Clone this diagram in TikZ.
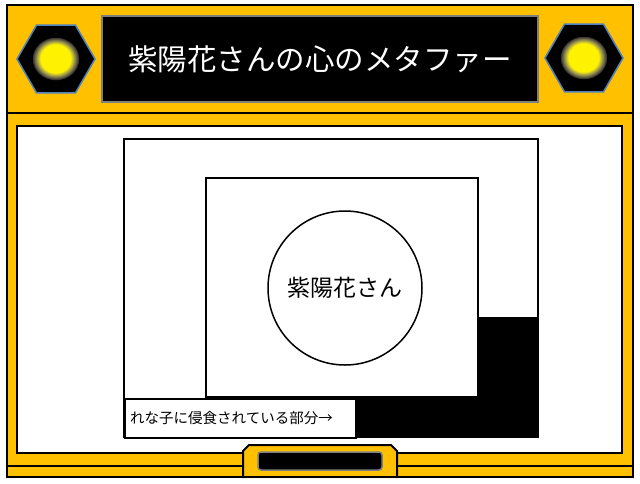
\documentclass[tikz,border=0pt]{standalone}
\usepackage{fontspec}
\usetikzlibrary{shapes.geometric}
\newfontfamily\jp{Noto Sans CJK JP}
\definecolor{frameor}{HTML}{FFC000}
\definecolor{hexblue}{HTML}{4F81BD}
\definecolor{tgray}{HTML}{7F7F7F}
\begin{document}
\begin{tikzpicture}[x=1pt,y=-1pt,
  frameline/.style={draw=black, line width=2pt},
  hexbox/.style={regular polygon, regular polygon sides=6, minimum size=78pt, inner sep=0pt, fill=black, draw=hexblue, line width=1.5pt},
  titlebox/.style={fill=black, draw=tgray, line width=2pt, minimum width=436pt, minimum height=86pt, inner sep=0pt, text=white, font=\jp\fontsize{29.5}{29.5}\selectfont},
  diag/.style={draw=black, line width=1.5pt, fill=white}
]
\useasboundingbox (0,0) rectangle (640,483);
\fill[white] (0,0) rectangle (640,483);
% frame
\fill[frameor] (7,5) rectangle (633,477);
\draw[frameline] (7,113) -- (633,113);
\draw[frameline] (7,466) -- (633,466);
\draw[frameline, fill=white] (17,126) rectangle (622,453);
% header
\node[titlebox] (title) at (320,59) {紫陽花さんの心のメタファー};
\node[hexbox] (hexL) at (56,59) {};
\node[hexbox] (hexR) at (584,58) {};
\foreach \h in {hexL,hexR}{
  \foreach \i in {0,...,10}{
    \pgfmathsetmacro{\rx}{24-0.85*\i}
    \pgfmathsetmacro{\ry}{22-0.75*\i}
    \pgfmathsetmacro{\pc}{10*\i}
    \fill[yellow!\pc!black] (\h.center) ellipse [x radius=\rx pt, y radius=\ry pt];
  }
}
% bottom tab
\draw[frameline, fill=frameor] (243,478) -- (243,451) -- (249,445) -- (391,445) -- (397,451) -- (397,478);
\draw[fill=black, draw=tgray, line width=1.5pt, rounded corners=3pt] (258,452) rectangle (382,470);
\draw[frameline] (7,5) rectangle (633,477);
% diagram
\draw[diag] (124,139) rectangle (538,437);
\fill[black] (477,317) -- (538,317) -- (538,437) -- (355,437) -- (355,396) -- (477,396) -- cycle;
\draw[draw=black, line width=1.5pt] (124,139) rectangle (538,437);
\node[diag, anchor=north west, minimum width=231pt, minimum height=39pt, inner sep=0pt] (tbox) at (124,398) {};
\node[anchor=west, inner sep=0pt, font=\jp\fontsize{14.5}{14.5}\selectfont] (lbl) at ([xshift=6pt]tbox.west) {れな子に侵食されている部分→};
\node[diag, minimum width=272pt, minimum height=219pt, inner sep=0pt, anchor=north west] (inner) at (205,177) {};
\node[diag, circle, minimum size=154pt, inner sep=0pt, font=\jp\fontsize{23}{23}\selectfont] (heart) at (345,288) {紫陽花さん};
\end{tikzpicture}
\end{document}
